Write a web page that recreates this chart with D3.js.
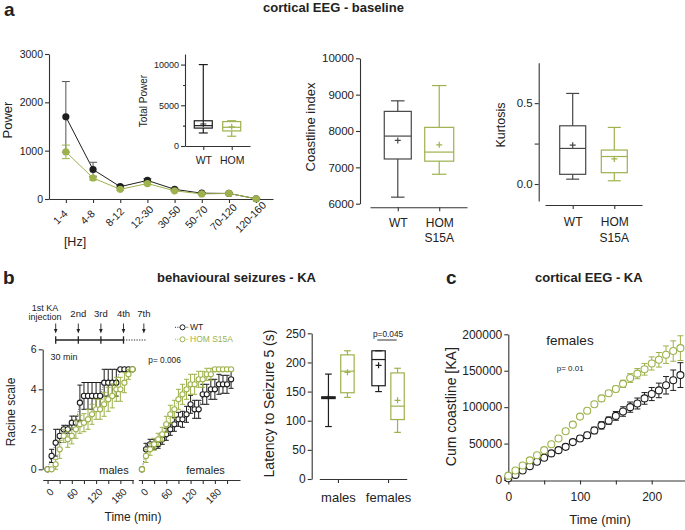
<!DOCTYPE html>
<html>
<head>
<meta charset="utf-8">
<script src="https://cdn.jsdelivr.net/npm/d3@7"></script>
<style>
  body { margin: 0; background: #fff; }
  svg { font-family: "Liberation Sans", Arial, Helvetica, sans-serif; }
  .axis path, .axis line { stroke: #333; stroke-width: 1.1; }
  .axis text { fill: #222; }
</style>
</head>
<body>
<svg id="fig" width="685" height="530"></svg>
<script>
// ---- panel a: spectral power ----
const bands = ['1-4', '4-8', '8-12', '12-30', '30-50', '50-70', '70-120', '120-160'];
const powerWT = [1700, 610, 255, 385, 200, 120, 115, 5];
const powerWTErr = [730, 150, 30, 35, 20, 15, 15, 3];
const powerHOM = [975, 435, 200, 320, 170, 105, 115, 5];
const powerHOMErr = [140, 40, 20, 25, 15, 10, 10, 3];

// box stats: [min, q1, median, q3, max, mean]
const genotypes = ['WT', 'HOM'];
const totalPowerWT = [1600, 2200, 2500, 3100, 10000, 2700];
const totalPowerHOM = [1200, 1850, 2300, 3000, 3100, 2350];
const coastlineWT = [6180, 7230, 7860, 8540, 8830, 7740];
const coastlineHOM = [6810, 7170, 7420, 8100, 9250, 7620];
const kurtosisWT = [0.03, 0.06, 0.22, 0.36, 0.56, 0.24];
const kurtosisHOM = [0.02, 0.07, 0.17, 0.21, 0.35, 0.155];

// ---- panel b: Racine scale over time ----
const maleTimes = [0, 10, 20, 30, 40, 50, 60, 70, 80, 90, 100, 110, 120, 130, 140, 150, 160, 170, 180, 190, 200, 210];
const maleWT = [0, 0.67, 1.33, 1.67, 2, 2, 2.33, 2.33, 3.33, 3.67, 3.67, 3.67, 3.67, 3.67, 4.33, 4.33, 4.33, 4.33, 5, 5, 5, 5];
const maleWTErr = [0, 0.33, 0.67, 0.33, 0.2, 0.2, 0.33, 0.33, 0.88, 0.67, 0.67, 0.67, 0.67, 0.67, 0.67, 0.67, 0.67, 0.67, 0, 0, 0, 0];
const maleHOM = [0, 0, 0.25, 1, 1.67, 1.5, 1.67, 2, 2.25, 2.33, 2.5, 2.75, 3, 3, 3.25, 3.5, 3.67, 4, 4, 4.33, 4.75, 5];
const maleHOMErr = [0, 0, 0.25, 0.45, 0.33, 0.4, 0.4, 0.45, 0.45, 0.45, 0.5, 0.5, 0.5, 0.5, 0.6, 0.6, 0.6, 0.6, 0.6, 0.5, 0.25, 0];
const femaleTimes = [0, 10, 20, 30, 40, 50, 60, 70, 80, 90, 100, 110, 120, 130, 140, 150, 160, 170, 180, 190, 200, 210, 220];
const femaleWT = [0, 1, 1.25, 1.25, 1.25, 1.5, 1.75, 2, 2.25, 2.5, 2.5, 2.75, 3.25, 3, 3, 3.75, 3.75, 4, 4, 4.25, 4.25, 4.25, 4.5];
const femaleWTErr = [0, 0.3, 0.25, 0.25, 0.2, 0.25, 0.3, 0.3, 0.35, 0.35, 0.4, 0.4, 0.45, 0.45, 0.45, 0.5, 0.5, 0.5, 0.5, 0.5, 0.45, 0.45, 0.45];
const femaleHOM = [0, 0.67, 1, 1.25, 1.5, 1.75, 2.25, 2.75, 3, 3.5, 3.75, 4, 4.25, 4.25, 4.5, 4.5, 4.75, 4.75, 5, 5, 5, 5, 5];
const femaleHOMErr = [0, 0.33, 0.3, 0.3, 0.3, 0.35, 0.4, 0.45, 0.45, 0.5, 0.5, 0.5, 0.5, 0.5, 0.4, 0.4, 0.3, 0.3, 0, 0, 0, 0, 0];
const injectionLabels = ['2nd', '3rd', '4th', '7th'];

// latency to seizure 5, box stats per sex
const sexes = ['males', 'females'];
const latencyWT = [[90, 138, 140, 141, 180, 140], [150, 160, 205, 220, 220, 195]];
const latencyHOM = [[140, 148, 185, 213, 220, 183], [80, 102, 125, 182, 190, 135]];

// ---- panel c: cumulative coastline ----
const kaTimes = [0, 10, 20, 30, 40, 50, 60, 70, 80, 90, 100, 110, 120, 130, 140, 150, 160, 170, 180, 190, 200, 210, 220, 230, 240];
const cumWT = [2300, 7000, 13000, 19000, 25000, 30500, 36500, 41000, 45500, 52000, 57000, 61500, 68000, 75000, 81500, 88000, 94000, 100000, 105000, 112000, 118000, 123000, 130000, 137000, 144000];
const cumWTErr = [500, 800, 1000, 1500, 1500, 2000, 2000, 2500, 3000, 3000, 3500, 4000, 4500, 5000, 5000, 6000, 6500, 7000, 7500, 8000, 9000, 10000, 12000, 14000, 17000];
const cumHOM = [6000, 13000, 20000, 27000, 34000, 41000, 49000, 57000, 67000, 76000, 87000, 95000, 104000, 112000, 119000, 125000, 132000, 140000, 146000, 152000, 160000, 165000, 172000, 177000, 181000];
const cumHOMErr = [500, 800, 1000, 1000, 1200, 1500, 1500, 1800, 2000, 2500, 2500, 3000, 3000, 3500, 3500, 4000, 5000, 6000, 7000, 8000, 9000, 10000, 12000, 14000, 17000];

const GREEN = '#9db24c';
const BLACK = '#1e1e1e';
const GREY = '#474747';

const svg = d3.select('#fig');
svg.append('rect').attr('width', 685).attr('height', 530).attr('fill', '#fff');

function text(str, x, y, size, opts = {}) {
  return svg.append('text')
    .attr('x', x)
    .attr('y', y)
    .attr('font-size', size)
    .attr('font-weight', opts.bold ? 'bold' : null)
    .attr('text-anchor', opts.anchor || 'start')
    .attr('fill', opts.color || '#222')
    .text(str);
}

function vtext(str, x, y, size) {
  return svg.append('text')
    .attr('transform', `translate(${x},${y}) rotate(-90)`)
    .attr('font-size', size)
    .attr('text-anchor', 'middle')
    .attr('fill', '#222')
    .text(str);
}

function leftAxis(y, x, ticks, size, fmt) {
  return svg.append('g')
    .attr('class', 'axis')
    .attr('transform', `translate(${x},0)`)
    .call(d3.axisLeft(y).tickValues(ticks).tickSize(4).tickSizeOuter(0).tickPadding(2).tickFormat(fmt || d3.format('d')))
    .attr('font-size', size)
    .attr('font-family', null);
}

function bottomAxis(x, y, ticks, size, fmt) {
  let axis = d3.axisBottom(x).tickSize(4).tickSizeOuter(0).tickPadding(3);
  if (ticks) axis.tickValues(ticks);
  if (fmt) axis.tickFormat(fmt);
  return svg.append('g')
    .attr('class', 'axis')
    .attr('transform', `translate(0,${y})`)
    .call(axis)
    .attr('font-size', size)
    .attr('font-family', null);
}

function boxPlot(cx, y, s, color, half) {
  let [lo, q1, med, q3, hi, mean] = s;
  let b = svg.append('g').attr('stroke', color).attr('fill', 'none').attr('stroke-width', 1.2);
  b.append('line').attr('x1', cx).attr('x2', cx).attr('y1', y(hi)).attr('y2', y(q3));
  b.append('line').attr('x1', cx).attr('x2', cx).attr('y1', y(q1)).attr('y2', y(lo));
  [lo, hi].forEach(v => b.append('line')
    .attr('x1', cx - half / 2).attr('x2', cx + half / 2)
    .attr('y1', y(v)).attr('y2', y(v)));
  b.append('rect')
    .attr('x', cx - half).attr('y', y(q3))
    .attr('width', 2 * half).attr('height', Math.max(y(q1) - y(q3), 1));
  b.append('line').attr('x1', cx - half).attr('x2', cx + half).attr('y1', y(med)).attr('y2', y(med));
  b.append('path').attr('d', `M${cx - 3},${y(mean)}H${cx + 3}M${cx},${y(mean) - 3}V${y(mean) + 3}`);
}

function series(x, y, times, vals, errs, color, r, cap, dotted) {
  let pts = times.map((t, i) => ({ t, v: vals[i], e: errs[i] }));
  let g = svg.append('g');
  if (dotted) {
    g.append('path').datum(pts)
      .attr('fill', 'none').attr('stroke', color).attr('stroke-width', 0.8)
      .attr('stroke-dasharray', '1,1.5')
      .attr('d', d3.line().x(d => x(d.t)).y(d => y(d.v)));
  }
  g.append('g').attr('stroke', color).attr('stroke-width', 1).attr('fill', 'none')
    .selectAll('path').data(pts.filter(d => d.e > 0)).join('path')
    .attr('d', d => {
      let cx = x(d.t), top = y(d.v + d.e), bot = y(d.v - d.e);
      return `M${cx},${top}V${bot}M${cx - cap},${top}H${cx + cap}M${cx - cap},${bot}H${cx + cap}`;
    });
  g.append('g').selectAll('circle').data(pts).join('circle')
    .attr('cx', d => x(d.t)).attr('cy', d => y(d.v)).attr('r', r)
    .attr('fill', '#fff').attr('stroke', color).attr('stroke-width', 1.1);
}

// ================= panel a =================
text('a', 4, 16, 19, { bold: true });
text('cortical EEG - baseline', 263, 12, 13, { bold: true });

// power per band
let xBand = d3.scalePoint().domain(bands).range([49, 273]).padding(0.62);
let yPow = d3.scaleLinear().domain([0, 3000]).range([199, 54]);
leftAxis(yPow, 49, [0, 1000, 2000, 3000], 10.5);
let bandAxis = bottomAxis(xBand, 199, null, 10.5);
bandAxis.selectAll('.tick text')
  .attr('y', 0).attr('dy', '0.35em')
  .attr('transform', 'translate(-6,18) rotate(-45)')
  .style('text-anchor', 'middle');
vtext('Power', 12, 120, 13);
text('[Hz]', 75, 246, 12.5, { anchor: 'middle' });

[[powerWT, powerWTErr, BLACK], [powerHOM, powerHOMErr, GREEN]].forEach(([vals, errs, color]) => {
  let pts = bands.map((b, i) => ({ b, v: vals[i], e: errs[i] }));
  let g = svg.append('g');
  g.append('path').datum(pts)
    .attr('fill', 'none').attr('stroke', color).attr('stroke-width', 1)
    .attr('d', d3.line().x(d => xBand(d.b)).y(d => yPow(d.v)));
  g.append('g').attr('stroke', color === BLACK ? '#555' : color).attr('stroke-width', 1)
    .selectAll('path').data(pts).join('path')
    .attr('d', d => {
      let cx = xBand(d.b), top = yPow(d.v + d.e), bot = yPow(Math.max(d.v - d.e, 0));
      return `M${cx},${top}V${bot}M${cx - 4},${top}H${cx + 4}M${cx - 4},${bot}H${cx + 4}`;
    });
  g.append('g').selectAll('circle').data(pts).join('circle')
    .attr('cx', d => xBand(d.b)).attr('cy', d => yPow(d.v)).attr('r', 3.6)
    .attr('fill', color);
});

// inset: total power
let xInset = d3.scalePoint().domain(genotypes).range([185, 250]).padding(0.643);
let yInset = d3.scaleLinear().domain([0, 11300]).range([146, 54]);
leftAxis(yInset, 185, [0, 5000, 10000], 9);
svg.append('g').attr('class', 'axis').attr('transform', 'translate(185,0)')
  .call(d3.axisLeft(yInset).tickValues([2500, 7500]).tickSize(2).tickSizeOuter(0).tickFormat(''))
  .select('.domain').remove();
bottomAxis(xInset, 146, null, 10.5).selectAll('.tick text').attr('dy', '1.05em');
vtext('Total Power', 147, 101, 10);
boxPlot(xInset('WT'), yInset, totalPowerWT, BLACK, 9);
boxPlot(xInset('HOM'), yInset, totalPowerHOM, GREEN, 9);

// coastline index
let xCoast = d3.scalePoint().domain(genotypes).range([370, 467]).padding(0.67);
let yCoast = d3.scaleLinear().domain([6000, 10000]).range([203.7, 58.3]);
leftAxis(yCoast, 360, [6000, 7000, 8000, 9000, 10000], 11.5);
bottomAxis(xCoast, 207.3, null, 12).selectAll('.tick text').attr('dy', '1.1em');
vtext('Coastline index', 315, 127, 13);
boxPlot(xCoast('WT'), yCoast, coastlineWT, GREY, 13.5);
boxPlot(xCoast('HOM'), yCoast, coastlineHOM, GREEN, 14.5);
text('S15A', xCoast('HOM'), 242, 12, { anchor: 'middle' });

// kurtosis
let xKurt = d3.scalePoint().domain(genotypes).range([545, 642]).padding(0.666);
let yKurt = d3.scaleLinear().domain([-0.105, 0.75]).range([201, 62.7]);
leftAxis(yKurt, 538.7, [0, 0.25, 0.5], 11.5, d => d === 0.25 ? '' : d3.format('.1f')(d));
bottomAxis(xKurt, 205, null, 12).selectAll('.tick text').attr('dy', '1.2em');
vtext('Kurtosis', 505, 125, 12.5);
boxPlot(xKurt('WT'), yKurt, kurtosisWT, GREY, 13);
boxPlot(xKurt('HOM'), yKurt, kurtosisHOM, GREEN, 13);
text('S15A', xKurt('HOM'), 242, 12, { anchor: 'middle' });

// ================= panel b =================
text('b', 3, 283.5, 19, { bold: true });
text('behavioural seizures - KA', 157, 281.7, 13, { bold: true });

// injection schematic
let slot = d3.scaleLinear().domain([0, 1]).range([55.7, 78.3]);
let slots = [0, 1, 2, 3, 3.9];
let sch = svg.append('g').attr('stroke', '#222');
sch.append('line').attr('x1', slot(0)).attr('x2', slot(3)).attr('y1', 340).attr('y2', 340).attr('stroke-width', 1.7);
sch.append('line').attr('x1', slot(3)).attr('x2', slot(4)).attr('y1', 340).attr('y2', 340)
  .attr('stroke-width', 1.2).attr('stroke-dasharray', '1.2,1.4');
slots.slice(0, 4).forEach(s => sch.append('line')
  .attr('x1', slot(s)).attr('x2', slot(s)).attr('y1', 336.3).attr('y2', 343.7).attr('stroke-width', 1.3));
slots.forEach(s => {
  sch.append('line').attr('x1', slot(s)).attr('x2', slot(s)).attr('y1', 323.5).attr('y2', 330).attr('stroke-width', 0.9);
  sch.append('path').attr('d', `M${slot(s) - 1.8},329L${slot(s) + 1.8},329L${slot(s)},333.5Z`).attr('fill', '#222').attr('stroke', 'none');
});
text('1st KA', 45, 311.3, 9, { anchor: 'middle' });
text('injection', 45, 320.3, 9, { anchor: 'middle' });
injectionLabels.forEach((l, i) => text(l, slot(slots[i + 1]), 316.7, 9.5, { anchor: 'middle' }));
text('30 min', 64, 360, 9, { anchor: 'middle' });

// legend
[['WT', BLACK, 327.3], ['HOM S15A', GREEN, 339.3]].forEach(([name, color, y]) => {
  svg.append('line').attr('x1', 175).attr('x2', 189).attr('y1', y).attr('y2', y)
    .attr('stroke', color).attr('stroke-width', 0.9).attr('stroke-dasharray', '1,1.3');
  svg.append('circle').attr('cx', 182.5).attr('cy', y).attr('r', 2.5)
    .attr('fill', '#fff').attr('stroke', color).attr('stroke-width', 1);
  text(name, 190, y + 3, 8.5, { color: color === BLACK ? '#222' : GREEN });
});

// racine
let yRac = d3.scaleLinear().domain([0, 6]).range([469.3, 349.3]);
let xMale = d3.scaleLinear().domain([-12, 212]).range([42.7, 133.3]);
let xFemale = d3.scaleLinear().domain([-9, 242]).range([138.3, 240]);
leftAxis(yRac, 42.7, [0, 2, 4, 6], 10.5);
[xMale, xFemale].forEach(x => {
  let ticks = [0, 30, 60, 90, 120, 150, 180, 210];
  bottomAxis(x, 480, ticks, 10, d => d % 60 === 0 ? d : '')
    .selectAll('.tick text')
    .attr('y', 0).attr('dy', '0.35em')
    .attr('transform', 'translate(4,10) rotate(-45)')
    .style('text-anchor', 'end');
});
series(xMale, yRac, maleTimes, maleWT, maleWTErr, BLACK, 2.6, 2.5, true);
series(xMale, yRac, maleTimes, maleHOM, maleHOMErr, GREEN, 2.6, 2.5, true);
series(xFemale, yRac, femaleTimes, femaleWT, femaleWTErr, BLACK, 2.6, 2.5, true);
series(xFemale, yRac, femaleTimes, femaleHOM, femaleHOMErr, GREEN, 2.6, 2.5, true);
vtext('Racine scale', 15, 412, 12);
text('males', 114, 474, 11, { anchor: 'middle' });
text('females', 205.5, 474, 11, { anchor: 'middle' });
text('p= 0.006', 148.3, 362.5, 8.3);
text('Time (min)', 133, 521, 12, { anchor: 'middle' });

// latency to seizure 5
let xLat = d3.scalePoint().domain(sexes).range([319.3, 406.7]).padding(0.372);
let yLat = d3.scaleLinear().domain([0, 250]).range([479, 333.3]);
leftAxis(yLat, 311.7, [0, 50, 100, 150, 200, 250], 12);
bottomAxis(xLat, 479, null, 13).selectAll('.tick text').attr('dy', '1.2em');
vtext('Latency to Seizure 5 (s)', 274, 403.5, 14);
sexes.forEach((s, i) => {
  boxPlot(xLat(s) - 9.5, yLat, latencyWT[i], BLACK, 6.7);
  boxPlot(xLat(s) + 9.5, yLat, latencyHOM[i], GREEN, 6.7);
});
svg.append('line').attr('x1', xLat('females') - 10.7).attr('x2', xLat('females') + 8.6)
  .attr('y1', 340).attr('y2', 340).attr('stroke', '#333').attr('stroke-width', 1);
text('p=0.045', xLat('females'), 337, 8.3, { anchor: 'middle' });

// ================= panel c =================
text('c', 446, 283.5, 19, { bold: true });
text('cortical EEG - KA', 535, 281.7, 13, { bold: true });
let xKA = d3.scaleLinear().domain([0, 246]).range([508.3, 684.7]);
let yKA = d3.scaleLinear().domain([0, 200000]).range([480, 334.3]);
leftAxis(yKA, 508.3, [0, 50000, 100000, 150000, 200000], 12);
bottomAxis(xKA, 480.5, [0, 50, 100, 150, 200], 12, d => d % 100 === 0 ? d : '')
  .selectAll('.tick text').attr('dy', '1.1em');
series(xKA, yKA, kaTimes, cumWT, cumWTErr, BLACK, 3.5, 3, false);
series(xKA, yKA, kaTimes, cumHOM, cumHOMErr, GREEN, 3.5, 3, false);
vtext('Cum coastline [KA]', 456, 406.7, 14);
text('females', 570, 345, 13.5, { anchor: 'middle' });
text('p= 0.01', 556.7, 371, 8);
text('Time (min)', 600, 524, 13, { anchor: 'middle' });
</script>
</body>
</html>
